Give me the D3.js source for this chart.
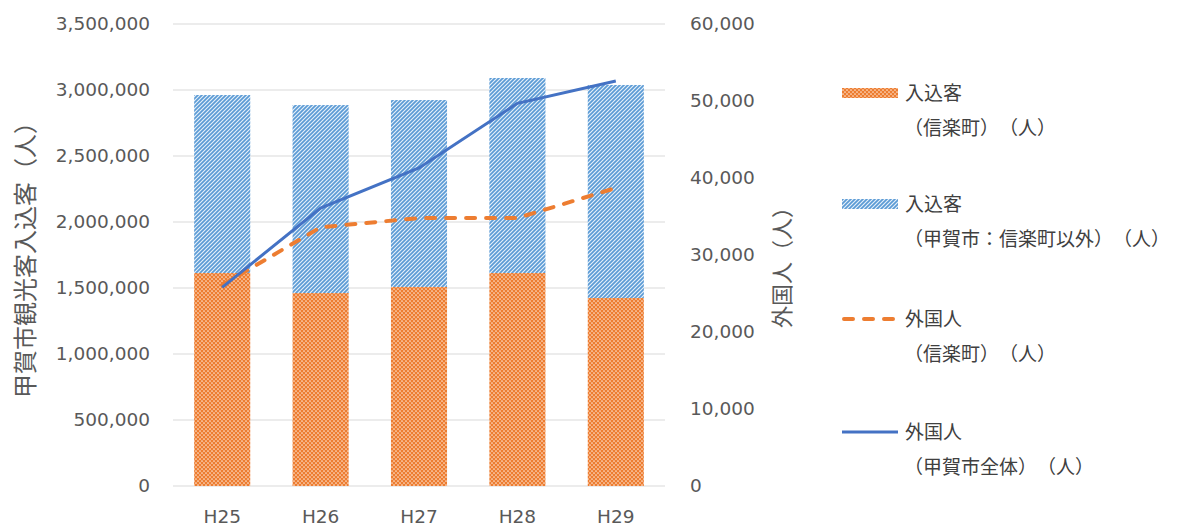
<!DOCTYPE html>
<html>
<head>
<meta charset="utf-8">
<script src="https://cdn.jsdelivr.net/npm/d3@7"></script>
<style>
  body { margin: 0; background: #fff; }
  svg, text { text-spacing-trim: space-all; }
  text { font-family: "Noto Sans CJK JP", "Noto Sans", sans-serif; }
  .tick text { font-family: "DejaVu Sans", sans-serif; }
</style>
</head>
<body>
<div id="chart"></div>
<script>
// data
var years = ["H25", "H26", "H27", "H28", "H29"];
var shigarakiVisitors = [1614000, 1462000, 1508000, 1614000, 1424000];
var otherVisitors = [1348000, 1424000, 1416000, 1477000, 1614000];
var shigarakiForeign = [26100, 33600, 34800, 34800, 38700];
var kokaForeign = [25800, 36100, 41300, 49700, 52600];
var leftTicks = [0, 500000, 1000000, 1500000, 2000000, 2500000, 3000000, 3500000];
var rightTicks = [0, 10000, 20000, 30000, 40000, 50000, 60000];
var legendLabels = [
    ["入込客", "（信楽町）（人）"],
    ["入込客", "（甲賀市：信楽町以外）（人）"],
    ["外国人", "（信楽町）（人）"],
    ["外国人", "（甲賀市全体）（人）"]
];

var margin = { top: 24, left: 173 };
var width = 492, height = 462;

var svg = d3.select("#chart").append("svg")
    .attr("width", 1181)
    .attr("height", 527);

//patterns for the bars
var defs = svg.append("defs");
var dots = defs.append("pattern")
    .attr("id", "dots")
    .attr("patternUnits", "userSpaceOnUse")
    .attr("width", 4).attr("height", 4);
dots.append("rect").attr("width", 4).attr("height", 4).attr("fill", "#ed7d31");
dots.append("circle").attr("cx", 1).attr("cy", 1).attr("r", 0.85).attr("fill", "#fde3cf");
dots.append("circle").attr("cx", 3).attr("cy", 3).attr("r", 0.85).attr("fill", "#fde3cf");

var stripes = defs.append("pattern")
    .attr("id", "stripes")
    .attr("patternUnits", "userSpaceOnUse")
    .attr("width", 4).attr("height", 4);
stripes.append("rect").attr("width", 4).attr("height", 4).attr("fill", "#e6f0fa");
stripes.append("path")
    .attr("d", "M0,4 L4,0 M-1,1 L1,-1 M3,5 L5,3")
    .attr("stroke", "#5b9bd5")
    .attr("stroke-width", 1.7);

var g = svg.append("g")
    .attr("transform", "translate(" + margin.left + "," + margin.top + ")");

var x = d3.scaleBand()
    .domain(years)
    .range([0, width])
    .paddingInner(0.43)
    .paddingOuter(0.215);

var y = d3.scaleLinear().domain([0, 3500000]).range([height, 0]);
var y2 = d3.scaleLinear().domain([0, 60000]).range([height, 0]);

// gridlines
g.selectAll(".grid")
    .data(leftTicks)
    .enter()
    .append("line")
    .attr("x1", 0).attr("x2", width)
    .attr("y1", function (d) { return y(d); })
    .attr("y2", function (d) { return y(d); })
    .attr("stroke", "#d9d9d9")
    .attr("stroke-width", 1);

// left axis
var gy = g.append("g")
    .call(d3.axisLeft(y).tickValues(leftTicks).tickFormat(d3.format(",")).tickSize(0).tickPadding(23));
gy.select(".domain").remove();
gy.selectAll("text").attr("fill", "#595959").style("font-size", "18.5px");

// right axis
var gy2 = g.append("g")
    .attr("transform", "translate(" + width + ",0)")
    .call(d3.axisRight(y2).tickValues(rightTicks).tickFormat(d3.format(",")).tickSize(0).tickPadding(25));
gy2.select(".domain").remove();
gy2.selectAll("text").attr("fill", "#595959").style("font-size", "18.5px");

// x axis
var gx = g.append("g")
    .attr("transform", "translate(0," + height + ")")
    .call(d3.axisBottom(x).tickSize(0).tickPadding(24));
gx.select(".domain").remove();
gx.selectAll("text").attr("fill", "#595959").style("font-size", "18.5px");

// stacked bars
g.selectAll(".barA")
    .data(years)
    .enter()
    .append("rect")
    .attr("x", function (d) { return x(d); })
    .attr("width", x.bandwidth())
    .attr("y", function (d, i) { return y(shigarakiVisitors[i]); })
    .attr("height", function (d, i) { return height - y(shigarakiVisitors[i]); })
    .attr("fill", "url(#dots)");

g.selectAll(".barB")
    .data(years)
    .enter()
    .append("rect")
    .attr("x", function (d) { return x(d); })
    .attr("width", x.bandwidth())
    .attr("y", function (d, i) { return y(shigarakiVisitors[i] + otherVisitors[i]); })
    .attr("height", function (d, i) { return y(shigarakiVisitors[i]) - y(shigarakiVisitors[i] + otherVisitors[i]); })
    .attr("fill", "url(#stripes)");

// lines on the right axis
var line = d3.line()
    .x(function (d, i) { return x(years[i]) + x.bandwidth() / 2; })
    .y(function (d) { return y2(d); });

g.append("path")
    .datum(shigarakiForeign)
    .attr("d", line)
    .attr("fill", "none")
    .attr("stroke", "#ed7d31")
    .attr("stroke-width", 4)
    .attr("stroke-linecap", "round")
    .attr("stroke-dasharray", "9,11");

g.append("path")
    .datum(kokaForeign)
    .attr("d", line)
    .attr("fill", "none")
    .attr("stroke", "#4472c4")
    .attr("stroke-width", 3);

// axis titles
svg.append("text")
    .attr("transform", "translate(34,254) rotate(-90)")
    .attr("text-anchor", "middle")
    .attr("fill", "#595959")
    .style("font-size", "24px")
    .text("甲賀市観光客入込客（人）");

svg.append("text")
    .attr("transform", "translate(790,262) rotate(-90)")
    .attr("text-anchor", "middle")
    .attr("fill", "#595959")
    .style("font-size", "22px")
    .text("外国人（人）");

// legend
var legendY = [93, 204, 319, 432];
var legend = svg.selectAll(".legend")
    .data(legendLabels)
    .enter()
    .append("g")
    .attr("transform", function (d, i) { return "translate(842," + legendY[i] + ")"; });

legend.each(function (d, i) {
    var item = d3.select(this);
    if (i === 0 || i === 1) {
        item.append("rect")
            .attr("x", 0).attr("y", -5)
            .attr("width", 56).attr("height", 10)
            .attr("fill", i === 0 ? "url(#dots)" : "url(#stripes)");
    } else if (i === 2) {
        item.append("line")
            .attr("x1", 2).attr("x2", 56)
            .attr("stroke", "#ed7d31").attr("stroke-width", 4)
            .attr("stroke-dasharray", "9,11").attr("stroke-linecap", "round");
    } else {
        item.append("line")
            .attr("x1", 0).attr("x2", 56)
            .attr("stroke", "#4472c4").attr("stroke-width", 3);
    }
    item.append("text")
        .attr("x", 63).attr("y", 7)
        .attr("fill", "#404040")
        .style("font-size", "19px")
        .text(d[0]);
    item.append("text")
        .attr("x", 62).attr("y", 42)
        .attr("fill", "#404040")
        .style("font-size", "19px")
        .text(d[1]);
});
</script>
</body>
</html>
